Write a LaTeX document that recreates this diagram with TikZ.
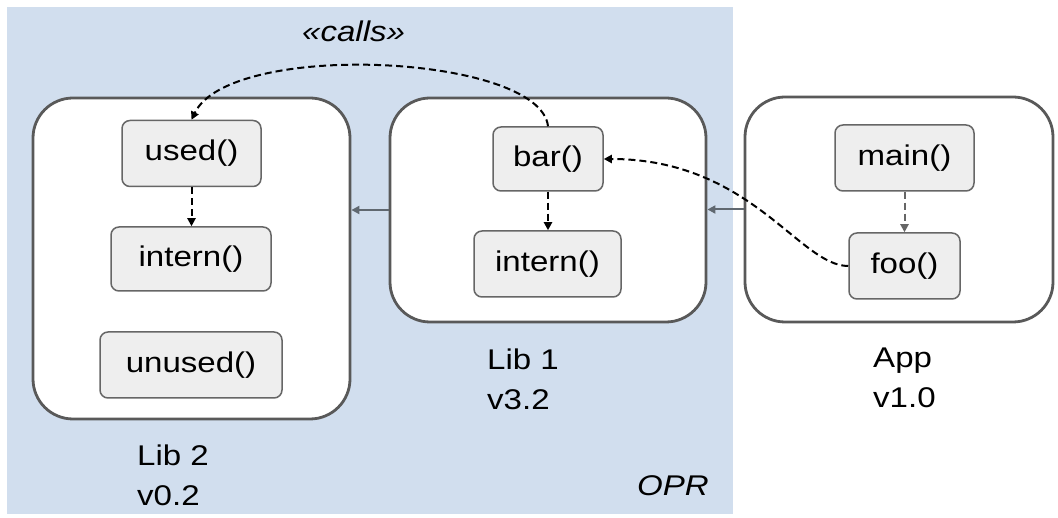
\documentclass[tikz,border=0pt]{standalone}
\usepackage{fontspec}
\setmainfont{Liberation Sans}[FakeStretch=1.16]
\usetikzlibrary{arrows.meta}
\definecolor{oprblue}{RGB}{209,222,238}
\definecolor{boxline}{RGB}{89,89,89}
\definecolor{fnfill}{RGB}{238,238,238}
\definecolor{fnline}{RGB}{102,102,102}
\definecolor{deparrow}{RGB}{96,104,112}

\begin{document}
\begin{tikzpicture}[x=1pt,y=-1pt,
  every node/.style={font=\fontsize{28.5}{40}\selectfont},
  component/.style={draw=boxline, line width=2.8pt, fill=white, rounded corners=40pt, inner sep=0pt},
  fn/.style={draw=fnline, line width=1.5pt, fill=fnfill, rounded corners=8pt, inner sep=0pt, minimum height=66pt},
  depends/.style={draw=deparrow, line width=2pt, -{Triangle[length=8pt,width=8pt]}},
  calls/.style={line width=2pt, dash pattern=on 7pt off 4pt, -{Triangle[length=8pt,width=8pt]}},
  libname/.style={align=left, inner sep=0pt, anchor=north west},
  note/.style={inner sep=0pt, font=\fontsize{28.5}{40}\selectfont\itshape},
]
\useasboundingbox (0,0) rectangle (1058,518);

% OPR region
\fill[oprblue] (7,7) rectangle (733,514);

% components
\node[component, minimum width=317pt, minimum height=321pt] (lib2) at (191.5,258.5) {};
\node[component, minimum width=316pt, minimum height=224pt] (lib1) at (548,210) {};
\node[component, minimum width=308pt, minimum height=225pt] (app) at (899,209.5) {};

% functions
\node[fn, minimum width=139pt] (used) at (191.5,153.5) {used()};
\node[fn, minimum width=160pt, minimum height=64pt] (intern2) at (191,259) {intern()};
\node[fn, minimum width=182pt] (unused) at (191,365) {unused()};
\node[fn, minimum width=110pt, minimum height=64pt] (bar) at (548,159) {bar()};
\node[fn, minimum width=147pt] (intern1) at (547.5,264) {intern()};
\node[fn, minimum width=139pt] (main) at (904.5,158) {main()};
\node[fn, minimum width=111pt] (foo) at (904.5,266) {foo()};

% component dependencies
\draw[depends] (lib1.west) -- (lib1.west -| lib2.east);
\draw[depends] (app.west) -- (app.west -| lib1.east);

% internal calls
\draw[calls] (used.south) -- (used.south |- intern2.north);
\draw[calls] (bar.south) -- (bar.south |- intern1.north);
\draw[calls, draw=fnline] (main.south) -- (main.south |- foo.north);

% cross-component calls
\draw[calls] (bar.north) .. controls +(-8,-72) and +(38.5,-80) .. (used.north);
\draw[calls] (foo.west) .. controls +(-49,0) and +(147,0) .. (bar.east);

% labels
\node[libname] (lib2name) at (137,445) {Lib 2\\v0.2};
\node[libname] (lib1name) at (487,349) {Lib 1\\v3.2};
\node[libname] (appname) at (873,348) {App\\v1.0};
\node[note, anchor=base east] (oprname) at (709,496) {OPR};
\node[note, anchor=base west] (callsname) at (302,42) {«calls»};
\end{tikzpicture}
\end{document}
